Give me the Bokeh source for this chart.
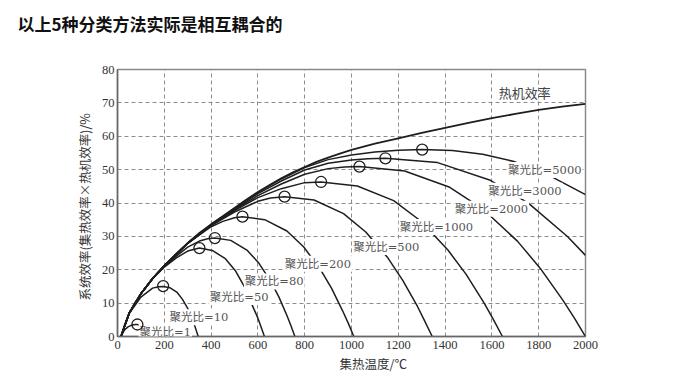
from bokeh.plotting import figure
from bokeh.models import Label, Range1d, Title
from bokeh.embed import file_html
from bokeh.resources import INLINE

# ---------------- text ----------------
title_text = "以上5种分类方法实际是相互耦合的"
x_title = "集热温度/℃"
y_title = "系统效率(集热效率×热机效率)/%"
engine_label = "热机效率"

x_ticks = [0, 200, 400, 600, 800, 1000, 1200, 1400, 1600, 1800, 2000]
y_ticks = [0, 10, 20, 30, 40, 50, 60, 70, 80]

# ---------------- data ----------------
engine_x = [15, 30, 50, 75, 100, 150, 200, 250, 300, 350, 400, 450, 500, 550, 600, 650, 700, 750, 800,
            850, 900, 950, 1000, 1100, 1200, 1300, 1400, 1500, 1600, 1700, 1800, 1900, 2000]
engine_y = [0, 3.3, 7.0, 10.1, 12.8, 17.4, 21.2, 24.6, 28.0, 31.0, 33.6, 36.0, 38.5, 41.0, 43.3, 45.4, 47.4,
            49.2, 50.8, 52.3, 53.6, 54.8, 55.9, 57.8, 59.4, 61.0, 62.5, 64.0, 65.4, 66.7, 67.9, 68.9, 69.7]

c1_x = [15, 30, 45, 60, 75, 85, 100, 115, 130, 140]
c1_y = [0, 2.0, 2.9, 3.4, 3.6, 3.6, 3.2, 2.3, 1.1, 0]

c10_x = [15, 30, 50, 100, 150, 175, 195, 225, 255, 277, 300, 315, 330, 337, 345]
c10_y = [0, 3.2, 6.9, 11.8, 14.5, 14.9, 15.0, 14.6, 13.2, 11.2, 8.4, 6.0, 3.2, 1.7, 0]

c50_x = [15, 50, 100, 150, 200, 250, 300, 350, 405, 461, 503, 545, 572, 600, 614, 628]
c50_y = [0, 7.0, 12.8, 17.3, 20.8, 23.5, 25.6, 26.5, 25.8, 23.3, 19.8, 14.6, 10.0, 5.5, 2.8, 0]

c80_x = [15, 50, 100, 150, 200, 250, 300, 350, 385, 416, 484, 553, 604, 655, 690, 724, 741, 758]
c80_y = [0, 7.0, 12.8, 17.3, 21.0, 24.0, 26.8, 28.6, 29.3, 29.5, 28.8, 25.9, 22.0, 16.5, 11.8, 6.3, 3.3, 0]

c200_x = [15, 50, 100, 150, 200, 250, 300, 400, 450, 500, 534, 629, 724, 796, 867, 915, 962, 986, 1010]
c200_y = [0, 7.0, 12.8, 17.4, 21.2, 24.6, 27.9, 32.9, 34.5, 35.6, 35.9, 35.0, 31.6, 26.8, 20.1, 14.4, 7.7, 4.0, 0]

c500_x = [15, 50, 100, 150, 200, 250, 300, 400, 500, 600, 654, 714, 840, 966, 1061, 1156, 1219, 1282, 1313, 1345]
c500_y = [0, 7.0, 12.8, 17.4, 21.2, 24.6, 27.9, 33.2, 37.3, 40.5, 41.5, 41.9, 40.9, 36.8, 31.3, 23.5, 16.8, 9.0, 4.6, 0]

c1000_x = [15, 50, 100, 150, 200, 250, 300, 400, 500, 600, 700, 800, 870, 1025, 1180, 1296, 1412, 1490, 1567,
           1606, 1645]
c1000_y = [0, 7.0, 12.8, 17.4, 21.2, 24.6, 27.9, 33.3, 37.7, 41.6, 44.3, 46.1, 46.3, 45.1, 40.7, 34.6, 25.9, 18.6,
           10.0, 5.1, 0]

c2000_x = [15, 50, 100, 150, 200, 250, 300, 400, 500, 600, 700, 800, 900, 970, 1034, 1227, 1420, 1565, 1710,
           1807, 1903, 1952, 2000]
c2000_y = [0, 7.0, 12.8, 17.4, 21.2, 24.6, 27.9, 33.4, 38.0, 42.2, 45.7, 48.6, 50.3, 50.8, 50.9, 49.6, 44.7, 38.0,
           28.5, 20.4, 10.9, 5.6, 0]

c3000_x = [15, 50, 100, 150, 200, 250, 300, 400, 500, 600, 700, 800, 900, 1000, 1070, 1145, 1368, 1590, 1757,
           1924, 2000]
c3000_y = [0, 7.0, 12.8, 17.4, 21.2, 24.6, 28.0, 33.5, 38.2, 42.8, 46.6, 49.9, 51.9, 52.9, 53.25, 53.4, 52.1, 46.9,
           39.9, 29.9, 24.3]

c5000_x = [15, 50, 100, 150, 200, 250, 300, 400, 500, 600, 700, 800, 900, 1000, 1100, 1200, 1302, 1431, 1561,
           1690, 1820, 2000]
c5000_y = [0, 7.0, 12.8, 17.4, 21.2, 24.6, 28.0, 33.6, 38.4, 43.2, 47.2, 50.6, 53.0, 54.4, 55.3, 55.8, 56.0, 55.7,
           54.6, 52.5, 49.2, 42.5]

opt_x = [85, 195, 350, 416, 534, 714, 870, 1034, 1145, 1302]
opt_y = [3.6, 15.1, 26.5, 29.5, 35.9, 41.9, 46.3, 50.9, 53.4, 56.0]

ratio_labels = ["聚光比=1", "聚光比=10", "聚光比=50", "聚光比=80", "聚光比=200", "聚光比=500",
                "聚光比=1000", "聚光比=2000", "聚光比=3000", "聚光比=5000"]
ratio_label_x = [90, 218, 390, 540, 711, 1003, 1202, 1437, 1580, 1665]
ratio_label_y = [1.4, 5.8, 11.8, 16.5, 21.8, 26.8, 32.8, 38.3, 43.7, 49.9]

curves = [(c1_x, c1_y), (c10_x, c10_y), (c50_x, c50_y), (c80_x, c80_y), (c200_x, c200_y),
          (c500_x, c500_y), (c1000_x, c1000_y), (c2000_x, c2000_y), (c3000_x, c3000_y), (c5000_x, c5000_y)]

# ---------------- figure ----------------
p = figure(width=664, height=375, x_range=Range1d(0, 2000), y_range=Range1d(0, 80),
           output_backend="svg", toolbar_location=None,
           min_border_left=117, min_border_right=79, min_border_top=69, min_border_bottom=39)
p.background_fill_color = "white"
p.border_fill_color = "white"
p.outline_line_color = "#8a8a8a"
p.outline_line_width = 1.5

# spacer panel next to the frame, then the page title above it
p.add_layout(Title(text=" ", text_font_size="1px", standoff=24), "above")
p.add_layout(Title(text=title_text, align="left", offset=-100, standoff=13,
                   text_font="Noto Sans CJK SC", text_font_size="17px", text_font_style="bold",
                   text_color="#111111"), "above")

p.xaxis.ticker = x_ticks
p.yaxis.ticker = y_ticks
for ax in (p.xaxis, p.yaxis):
    ax.axis_line_color = "#666666"
    ax.axis_line_width = 1.5
    ax.major_tick_line_color = None
    ax.minor_tick_line_color = None
    ax.major_tick_in = 0
    ax.major_tick_out = 0
    ax.major_label_text_font = "Liberation Serif"
    ax.major_label_text_font_size = "12.5px"
    ax.major_label_text_color = "#333333"
p.yaxis.major_label_standoff = 3
p.xaxis.major_label_standoff = 4

for g in (p.xgrid, p.ygrid):
    g.grid_line_color = "#8c8c8c"
    g.grid_line_dash = "4 3"
    g.grid_line_width = 1

line_col = "#1e1e1e"
p.line(engine_x, engine_y, line_color=line_col, line_width=1.8)
for cx, cy in curves:
    p.line(cx, cy, line_color=line_col, line_width=1.5)

lab_font = "DejaVu Serif, Noto Sans CJK SC"
for t, lx, ly in zip(ratio_labels, ratio_label_x, ratio_label_y):
    p.add_layout(Label(x=lx, y=ly, text=t, text_align="left", text_baseline="middle",
                       text_font=lab_font, text_font_size="11.5px", text_color="#555555",
                       background_fill_color="white", padding=1))

p.add_layout(Label(x=1629, y=73.0, text=engine_label, text_align="left", text_baseline="middle",
                   text_font="Noto Sans CJK SC", text_font_size="13px", text_color="#444444"))

circ = p.scatter(opt_x, opt_y, size=11, marker="circle", fill_color=None, line_color=line_col, line_width=1.3)
circ.level = "overlay"

# axis titles as Title panels (positioned by offset from the frame edge)
p.add_layout(Title(text=x_title, align="left", offset=222, standoff=0,
                   text_font="Noto Sans CJK SC", text_font_size="12.5px", text_font_style="normal",
                   text_color="#333333"), "below")
p.add_layout(Title(text=y_title, align="left", offset=36, standoff=10,
                   text_font="Noto Sans CJK SC", text_font_size="12.5px", text_font_style="normal",
                   text_color="#333333"), "left")

open("out.html", "w").write(file_html(p, INLINE))
